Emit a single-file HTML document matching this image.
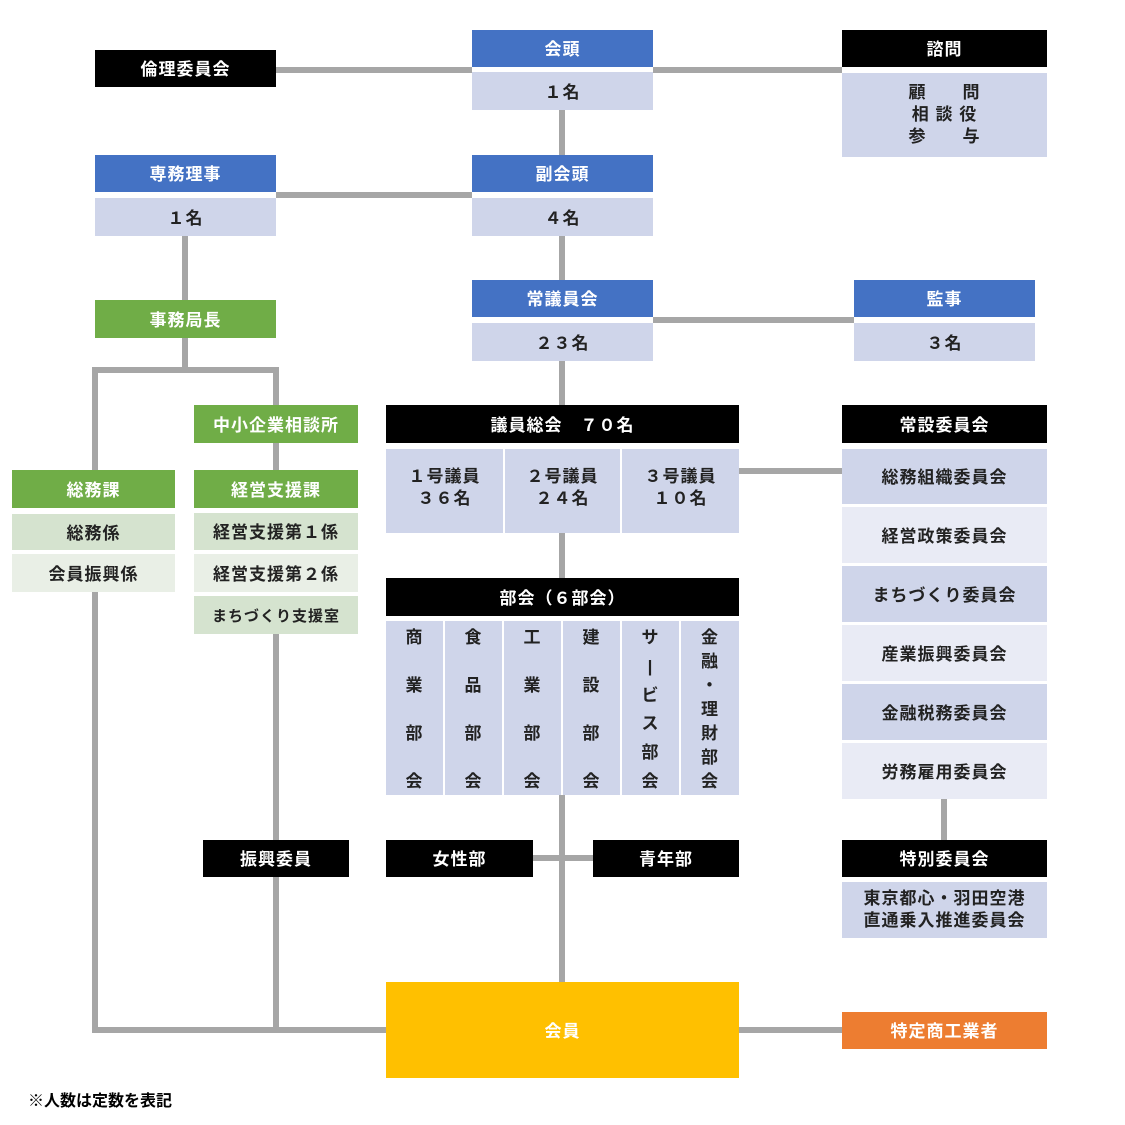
<!DOCTYPE html>
<html><head><meta charset="utf-8"><style>
body{margin:0;width:1125px;height:1125px;background:#fff;position:relative;overflow:hidden;font-family:"Liberation Sans","Noto Sans CJK JP",sans-serif;font-weight:bold}
.b{position:absolute;display:flex;align-items:center;justify-content:center;text-align:center;font-size:17px;line-height:22px;letter-spacing:1px;box-sizing:border-box;padding-top:3px}
.k{background:#000;color:#fff}.u{background:#4472C4;color:#fff}.g{background:#70AD47;color:#fff}
.l{background:#CFD5EA;color:#222}.l2{background:#E9EBF5;color:#222}
.lg{background:#D5E3CF;color:#222}.lg2{background:#E9EFE6;color:#222}
.h{position:absolute;background:#A6A6A6;height:6px}.v{position:absolute;background:#A6A6A6;width:6px}
.b.vt{flex-direction:column;justify-content:space-between;padding:6px 0 2px;line-height:22px}
</style></head><body>
<div class="h" style="left:276px;top:67px;width:196px"></div>
<div class="h" style="left:653px;top:67px;width:189px"></div>
<div class="v" style="left:559px;top:110px;height:45px"></div>
<div class="h" style="left:276px;top:192px;width:196px"></div>
<div class="v" style="left:559px;top:236px;height:44px"></div>
<div class="h" style="left:653px;top:317px;width:201px"></div>
<div class="v" style="left:182px;top:236px;height:64px"></div>
<div class="v" style="left:182px;top:338px;height:35px"></div>
<div class="h" style="left:92px;top:367px;width:187px"></div>
<div class="v" style="left:92px;top:367px;height:103px"></div>
<div class="v" style="left:273px;top:367px;height:38px"></div>
<div class="v" style="left:273px;top:443px;height:27px"></div>
<div class="v" style="left:273px;top:634px;height:206px"></div>
<div class="v" style="left:273px;top:877px;height:156px"></div>
<div class="v" style="left:92px;top:592px;height:441px"></div>
<div class="h" style="left:92px;top:1027px;width:294px"></div>
<div class="v" style="left:559px;top:361px;height:44px"></div>
<div class="h" style="left:739px;top:468px;width:103px"></div>
<div class="v" style="left:559px;top:533px;height:45px"></div>
<div class="v" style="left:559px;top:795px;height:187px"></div>
<div class="h" style="left:533px;top:855px;width:60px"></div>
<div class="h" style="left:739px;top:1027px;width:103px"></div>
<div class="v" style="left:941px;top:799px;height:41px"></div>
<div class="b k" style="left:95px;top:50px;width:181px;height:37px">倫理委員会</div>
<div class="b u" style="left:472px;top:30px;width:181px;height:37px">会頭</div>
<div class="b l" style="left:472px;top:72px;width:181px;height:38px">１名</div>
<div class="b k" style="left:842px;top:30px;width:205px;height:37px">諮問</div>
<div class="b l" style="left:842px;top:73px;width:205px;height:84px;line-height:22px;padding-top:0">顧　　問<br>相 談 役<br>参　　与</div>
<div class="b u" style="left:95px;top:155px;width:181px;height:37px">専務理事</div>
<div class="b l" style="left:95px;top:198px;width:181px;height:38px">１名</div>
<div class="b u" style="left:472px;top:155px;width:181px;height:37px">副会頭</div>
<div class="b l" style="left:472px;top:198px;width:181px;height:38px">４名</div>
<div class="b u" style="left:472px;top:280px;width:181px;height:37px">常議員会</div>
<div class="b l" style="left:472px;top:323px;width:181px;height:38px">２３名</div>
<div class="b u" style="left:854px;top:280px;width:181px;height:37px">監事</div>
<div class="b l" style="left:854px;top:323px;width:181px;height:38px">３名</div>
<div class="b g" style="left:95px;top:300px;width:181px;height:38px">事務局長</div>
<div class="b g" style="left:194px;top:405px;width:164px;height:38px">中小企業相談所</div>
<div class="b g" style="left:12px;top:470px;width:163px;height:38px">総務課</div>
<div class="b lg" style="left:12px;top:514px;width:163px;height:36px">総務係</div>
<div class="b lg2" style="left:12px;top:554px;width:163px;height:38px">会員振興係</div>
<div class="b g" style="left:194px;top:470px;width:164px;height:38px">経営支援課</div>
<div class="b lg" style="left:194px;top:513px;width:164px;height:37px">経営支援第１係</div>
<div class="b lg2" style="left:194px;top:554px;width:164px;height:38px">経営支援第２係</div>
<div class="b lg" style="left:194px;top:596px;width:164px;height:38px;font-size:15px">まちづくり支援室</div>
<div class="b k" style="left:203px;top:840px;width:146px;height:37px">振興委員</div>
<div class="b k" style="left:386px;top:405px;width:353px;height:38px">議員総会　７０名</div>
<div class="b l" style="left:386px;top:449px;width:117px;height:84px;padding-bottom:10px">１号議員<br>３６名</div>
<div class="b l" style="left:505px;top:449px;width:115px;height:84px;padding-bottom:10px">２号議員<br>２４名</div>
<div class="b l" style="left:622px;top:449px;width:117px;height:84px;padding-bottom:10px">３号議員<br>１０名</div>
<div class="b k" style="left:386px;top:578px;width:353px;height:38px">部会（６部会）</div>
<div class="b l vt" style="left:386px;top:621px;width:57px;height:174px"><span>商</span><span>業</span><span>部</span><span>会</span></div>
<div class="b l vt" style="left:445px;top:621px;width:57px;height:174px"><span>食</span><span>品</span><span>部</span><span>会</span></div>
<div class="b l vt" style="left:504px;top:621px;width:57px;height:174px"><span>工</span><span>業</span><span>部</span><span>会</span></div>
<div class="b l vt" style="left:563px;top:621px;width:57px;height:174px"><span>建</span><span>設</span><span>部</span><span>会</span></div>
<div class="b l vt" style="left:622px;top:621px;width:57px;height:174px"><span>サ</span><span>|</span><span>ビ</span><span>ス</span><span>部</span><span>会</span></div>
<div class="b l vt" style="left:681px;top:621px;width:58px;height:174px"><span>金</span><span>融</span><span>・</span><span>理</span><span>財</span><span>部</span><span>会</span></div>
<div class="b k" style="left:386px;top:840px;width:147px;height:37px">女性部</div>
<div class="b k" style="left:593px;top:840px;width:146px;height:37px">青年部</div>
<div class="b" style="left:386px;top:982px;width:353px;height:96px;background:#FFC000;color:#fff">会員</div>
<div class="b" style="left:842px;top:1012px;width:205px;height:37px;background:#ED7D31;color:#fff">特定商工業者</div>
<div class="b k" style="left:842px;top:405px;width:205px;height:38px">常設委員会</div>
<div class="b l" style="left:842px;top:449px;width:205px;height:55px">総務組織委員会</div>
<div class="b l2" style="left:842px;top:507px;width:205px;height:56px">経営政策委員会</div>
<div class="b l" style="left:842px;top:566px;width:205px;height:56px">まちづくり委員会</div>
<div class="b l2" style="left:842px;top:625px;width:205px;height:56px">産業振興委員会</div>
<div class="b l" style="left:842px;top:684px;width:205px;height:56px">金融税務委員会</div>
<div class="b l2" style="left:842px;top:743px;width:205px;height:56px">労務雇用委員会</div>
<div class="b k" style="left:842px;top:840px;width:205px;height:37px">特別委員会</div>
<div class="b l" style="left:842px;top:882px;width:205px;height:56px;padding-top:0">東京都心・羽田空港<br>直通乗入推進委員会</div>
<div class="b" style="left:28px;top:1089px;width:220px;height:22px;justify-content:flex-start;font-size:16px;letter-spacing:0">※人数は定数を表記</div>
</body></html>
